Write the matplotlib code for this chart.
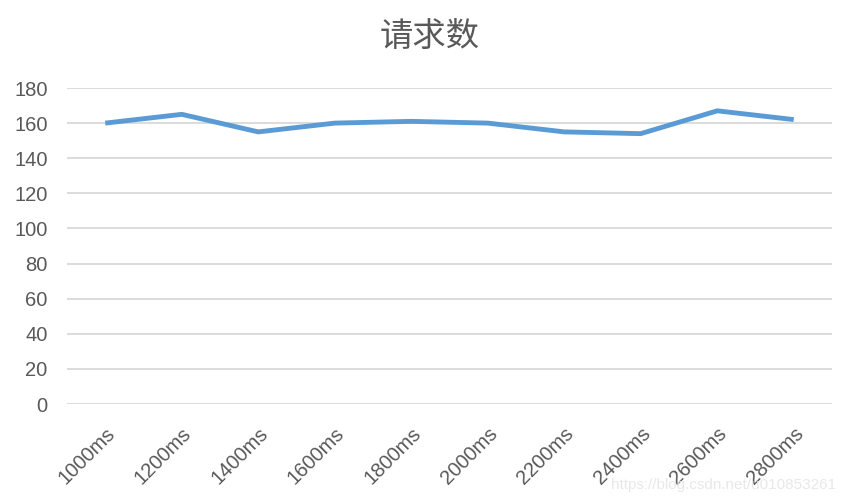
import matplotlib
matplotlib.use("Agg")
import matplotlib.pyplot as plt

categories = ["1000ms", "1200ms", "1400ms", "1600ms", "1800ms", "2000ms", "2200ms", "2400ms", "2600ms", "2800ms"]
values = [160, 165, 155, 160, 161, 160, 155, 154, 167, 162]
yticks = [0, 20, 40, 60, 80, 100, 120, 140, 160, 180]
title = "请求数"

plt.rcParams['font.family'] = ['Liberation Sans', 'DejaVu Sans']

fig = plt.figure(figsize=(8.44, 5.04), dpi=100)
ax = fig.add_axes([67/844, 1-404/504, (832-67)/844, (404-88)/504])
x = list(range(len(categories)))
ax.plot(x, values, color="#5B9BD5", linewidth=3.5, solid_capstyle="butt", solid_joinstyle="miter", zorder=3)
ax.set_xlim(-0.5, len(categories)-0.5)
ax.set_ylim(0, 180)
ax.set_yticks(yticks)
ax.set_yticklabels([str(v) for v in yticks], fontsize=14.5, color="#595959")
ax.set_xticks(x)
ax.set_xticklabels(categories, rotation=45, ha="right", rotation_mode="anchor", fontsize=14.5, color="#595959")
ax.tick_params(axis="both", length=0)
ax.tick_params(axis="y", pad=14)
ax.tick_params(axis="x", pad=14)
ax.grid(axis="y", color="#D9D9D9", linewidth=1.3)
ax.set_axisbelow(True)
for s in ax.spines.values():
    s.set_visible(False)
fig.text(430/844, 1-36/504, title, ha="center", va="center", fontsize=24, color="#595959",
         family=['Noto Sans CJK SC', 'DejaVu Sans'])
fig.text(836/844, 1-485/504, "https://blog.csdn.net/u010853261", ha="right", va="center", fontsize=11,
         color="#E6E6E6", alpha=0.9)
fig.savefig("out.png", dpi=100)
